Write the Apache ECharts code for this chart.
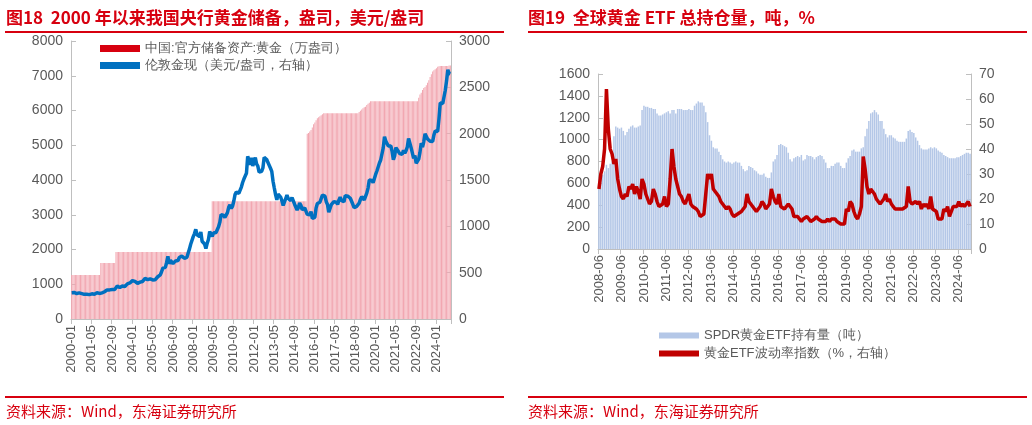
<!DOCTYPE html>
<html><head><meta charset="utf-8">
<script src="https://cdn.jsdelivr.net/npm/echarts@6/dist/echarts.min.js"></script>
<style>
body{margin:0;width:1032px;height:425px;position:relative;background:#fff;font-family:"Noto Sans CJK SC",sans-serif;overflow:hidden}
#c{position:absolute;left:0;top:0;width:1032px;height:425px}
.t{position:absolute;color:#d7000f;font-weight:bold;font-size:17px;top:4px;white-space:nowrap}
.s{position:absolute;color:#d7000f;font-size:15px;top:400px;white-space:nowrap}
.l{position:absolute;height:2px;background:#d7000f}
</style></head><body>
<div id="c"></div>
<div class="t" style="left:6px">图18&nbsp; 2000 年以来我国央行黄金储备，盎司，美元/盎司</div>
<div class="t" style="left:528px">图19&nbsp; 全球黄金 ETF 总持仓量，吨，%</div>
<div class="l" style="left:5px;width:499px;top:31px"></div>
<div class="l" style="left:528px;width:499px;top:31px"></div>
<div class="l" style="left:5px;width:499px;top:396px"></div>
<div class="l" style="left:528px;width:499px;top:396px"></div>
<div class="s" style="left:6px">资料来源：Wind，东海证券研究所</div>
<div class="s" style="left:528px">资料来源：Wind，东海证券研究所</div>
<script>
// ---- Chart 18 data ----
const months18 = [];
for (let y = 2000; y <= 2024; y++) for (let m = 1; m <= 12; m++) months18.push(y + '-' + String(m).padStart(2, '0'));
const goldPrice = [
284,300,286,280,275,285,282,275,274,270,266,272,
266,262,263,261,272,270,268,273,283,283,276,276,
282,296,294,302,314,321,314,310,319,317,319,333,
357,359,340,328,355,356,351,360,379,379,389,407,
414,405,406,403,384,392,398,400,405,420,439,442,
424,423,434,429,422,430,424,437,456,470,476,510,
549,555,557,610,676,596,633,632,598,586,627,629,
631,664,655,679,667,655,665,665,712,754,806,803,
889,922,968,909,888,890,939,839,829,807,760,816,
858,943,924,890,928,945,934,949,996,1043,1127,1135,
1117,1095,1113,1148,1205,1233,1193,1215,1271,1342,1370,1391,
1356,1372,1424,1473,1510,1529,1572,1756,1772,1665,1739,1652,
1656,1742,1674,1650,1585,1596,1594,1630,1744,1747,1721,1688,
1671,1627,1593,1487,1414,1343,1286,1347,1349,1316,1275,1225,
1244,1300,1336,1299,1287,1279,1311,1296,1239,1222,1176,1201,
1251,1227,1179,1198,1199,1181,1129,1118,1124,1159,1086,1068,
1097,1199,1246,1242,1260,1276,1337,1341,1326,1266,1236,1152,
1192,1234,1231,1266,1246,1260,1236,1283,1315,1280,1283,1265,
1331,1331,1325,1335,1303,1282,1238,1202,1198,1215,1221,1250,
1291,1320,1300,1285,1284,1359,1413,1500,1510,1495,1471,1480,
1560,1597,1592,1683,1716,1732,1847,1968,1921,1900,1866,1858,
1867,1808,1718,1760,1850,1834,1807,1785,1775,1777,1821,1790,
1817,1856,1948,1937,1849,1837,1733,1765,1681,1665,1726,1798,
1898,1855,1912,1999,1992,1943,1950,1918,1916,1916,1985,2030,
2034,2024,2160,2331,2349,2326,2398,2469,2570,2690,2652,2646];
const reserves = [
1267,1267,1267,1267,1267,1267,1267,1267,1267,1267,1267,1267,
1267,1267,1267,1267,1267,1267,1267,1267,1267,1267,1267,1608,
1608,1608,1608,1608,1608,1608,1608,1608,1608,1608,1608,1929,
1929,1929,1929,1929,1929,1929,1929,1929,1929,1929,1929,1929,
1929,1929,1929,1929,1929,1929,1929,1929,1929,1929,1929,1929,
1929,1929,1929,1929,1929,1929,1929,1929,1929,1929,1929,1929,
1929,1929,1929,1929,1929,1929,1929,1929,1929,1929,1929,1929,
1929,1929,1929,1929,1929,1929,1929,1929,1929,1929,1929,1929,
1929,1929,1929,1929,1929,1929,1929,1929,1929,1929,1929,1929,
1929,1929,1929,3389,3389,3389,3389,3389,3389,3389,3389,3389,
3389,3389,3389,3389,3389,3389,3389,3389,3389,3389,3389,3389,
3389,3389,3389,3389,3389,3389,3389,3389,3389,3389,3389,3389,
3389,3389,3389,3389,3389,3389,3389,3389,3389,3389,3389,3389,
3389,3389,3389,3389,3389,3389,3389,3389,3389,3389,3389,3389,
3389,3389,3389,3389,3389,3389,3389,3389,3389,3389,3389,3389,
3389,3389,3389,3389,3389,3389,5331,5352,5395,5441,5508,5604,
5657,5720,5778,5803,5833,5862,5894,5924,5924,5924,5924,5924,
5924,5924,5924,5924,5924,5924,5924,5924,5924,5924,5924,5924,
5924,5924,5924,5924,5924,5924,5924,5924,5924,5924,5924,5956,
5991,6026,6062,6092,6111,6161,6194,6226,6264,6264,6264,6264,
6264,6264,6264,6264,6264,6264,6264,6264,6264,6264,6264,6264,
6264,6264,6264,6264,6264,6264,6264,6264,6264,6264,6264,6264,
6264,6264,6264,6264,6264,6264,6264,6264,6264,6264,6367,6464,
6512,6592,6650,6676,6727,6795,6869,6962,7046,7120,7158,7187,
7219,7258,7274,7280,7280,7280,7280,7280,7280,7280,7296,7296];

// ---- Chart 19 data ----
const months19 = [];
for (let y = 2008; y <= 2024; y++) for (let m = 1; m <= 12; m++) { if (y === 2008 && m < 6) continue; months19.push(y + '-' + String(m).padStart(2, '0')); }
const spdr = [
650,680,680,710,770,740,780,
800,1030,1120,1110,1100,1110,1080,1040,1070,1100,1120,1130,
1110,1110,1120,1130,1270,1310,1300,1300,1290,1290,1280,1280,
1240,1220,1220,1230,1240,1250,1260,1240,1270,1270,1240,1280,
1280,1280,1270,1270,1270,1280,1270,1270,1310,1330,1350,1340,
1340,1310,1250,1160,1040,990,930,920,920,890,860,820,
800,790,800,790,780,790,800,790,790,760,730,710,
720,760,750,740,720,710,690,680,680,690,660,650,
650,700,800,820,860,950,960,950,940,930,880,820,
800,830,840,850,840,860,810,820,860,850,850,840,
820,840,850,860,850,820,790,740,740,760,760,780,
790,790,760,740,740,790,830,850,900,910,890,890,
890,920,930,1030,1100,1170,1240,1250,1270,1250,1230,1170,
1170,1100,1050,1020,1040,1040,1020,1010,990,980,980,980,
980,1010,1080,1090,1070,1060,1020,990,950,920,910,910,
910,920,930,920,930,920,900,890,880,860,850,840,
830,830,830,830,840,840,850,860,870,880,880,870];
const gvz = [
24,30,33,40,64,48,40,
38,34,36,28,24,21,20,22,21,25,24,26,
22,25,23,20,28,26,22,20,18,19,24,22,
19,17,17,18,21,17,18,28,40,33,28,25,
22,21,19,18,20,22,18,17,17,16,15,13,
13,14,14,30,28,30,24,24,22,21,19,18,
17,16,17,16,14,13,13,14,14,15,15,17,
22,19,19,17,17,15,16,17,19,18,16,16,
18,24,21,19,18,22,17,17,16,16,18,18,
16,13,13,13,12,11,12,12,13,12,11,11,
12,13,12,12,11,11,11,12,11,12,12,12,
11,11,10,10,10,16,15,19,18,15,13,12,
14,17,37,32,25,22,24,24,22,20,20,18,
18,20,22,19,20,18,17,16,16,16,16,16,
16,17,25,19,18,18,19,18,19,16,18,17,
18,16,21,16,16,15,12,12,12,16,15,17,
13,13,17,17,17,19,17,18,17,18,19,17];

const txt = {color:'#595959', fontSize:14, fontFamily:'Liberation Sans, Arial', formatter:v=>String(v)};
const xtxt = {color:'#595959', fontSize:13, fontFamily:'Liberation Sans, Arial'};
const axisLine = {show:true, lineStyle:{color:'#bfbfbf'}};
const tick = {show:true,inside:true,lineStyle:{color:'#bfbfbf'}};
const chart = echarts.init(document.getElementById('c'));
chart.setOption({
  animation:false,
  grid:[
    {left:71, right:581, top:41, bottom:106},
    {left:598, right:61, top:74, bottom:176}
  ],
  legend:[
    {orient:'vertical', left:95, top:37, itemWidth:40, itemHeight:7, itemGap:4,
     textStyle:{color:'#595959', fontSize:13},
     data:[{name:'中国:官方储备资产:黄金（万盎司）', icon:'rect', itemStyle:{color:'#d7000f'}},
           {name:'伦敦金现（美元/盎司，右轴）', icon:'rect'}]},
    {orient:'vertical', left:654, top:324, itemWidth:40, itemHeight:6, itemGap:5,
     textStyle:{color:'#595959', fontSize:13},
     data:[{name:'SPDR黄金ETF持有量（吨）', icon:'rect'},{name:'黄金ETF波动率指数（%，右轴）', icon:'rect'}]}
  ],
  xAxis:[
    {type:'category', gridIndex:0, data:months18, axisLine:axisLine, axisTick:{show:true, interval:15, lineStyle:{color:'#bfbfbf'}},
     axisLabel:{...xtxt, rotate:90, interval:15, margin:6}},
    {type:'category', gridIndex:1, data:months19, axisLine:axisLine, axisTick:{show:true, interval:11, lineStyle:{color:'#bfbfbf'}},
     axisLabel:{...xtxt, rotate:90, interval:11, margin:6}}
  ],
  yAxis:[
    {type:'value', gridIndex:0, min:0, max:8000, interval:1000, axisLine:axisLine, axisTick:tick, splitLine:{show:false}, axisLabel:txt},
    {type:'value', gridIndex:0, min:0, max:3000, interval:500, axisLine:axisLine, axisTick:tick, splitLine:{show:false}, axisLabel:txt},
    {type:'value', gridIndex:1, min:0, max:1600, interval:200, axisLine:axisLine, axisTick:tick, splitLine:{show:false}, axisLabel:txt},
    {type:'value', gridIndex:1, min:0, max:70, interval:10, axisLine:axisLine, axisTick:tick, splitLine:{show:false}, axisLabel:txt}
  ],
  series:[
    {name:'中国:官方储备资产:黄金（万盎司）', type:'bar', xAxisIndex:0, yAxisIndex:0, data:reserves,
     barCategoryGap:'35%', itemStyle:{color:'#f2a7b1'}},
    {name:'伦敦金现（美元/盎司，右轴）', type:'line', xAxisIndex:0, yAxisIndex:1, data:goldPrice,
     symbol:'none', lineStyle:{color:'#0070c0', width:3.5}, itemStyle:{color:'#0070c0'}},
    {name:'SPDR黄金ETF持有量（吨）', type:'bar', xAxisIndex:1, yAxisIndex:2, data:spdr,
     barCategoryGap:'20%', itemStyle:{color:'#b4c7e7'}},
    {name:'黄金ETF波动率指数（%，右轴）', type:'line', xAxisIndex:1, yAxisIndex:3, data:gvz,
     symbol:'none', lineStyle:{color:'#c00000', width:3.5}, itemStyle:{color:'#c00000'}}
  ]
});
</script></body></html>
